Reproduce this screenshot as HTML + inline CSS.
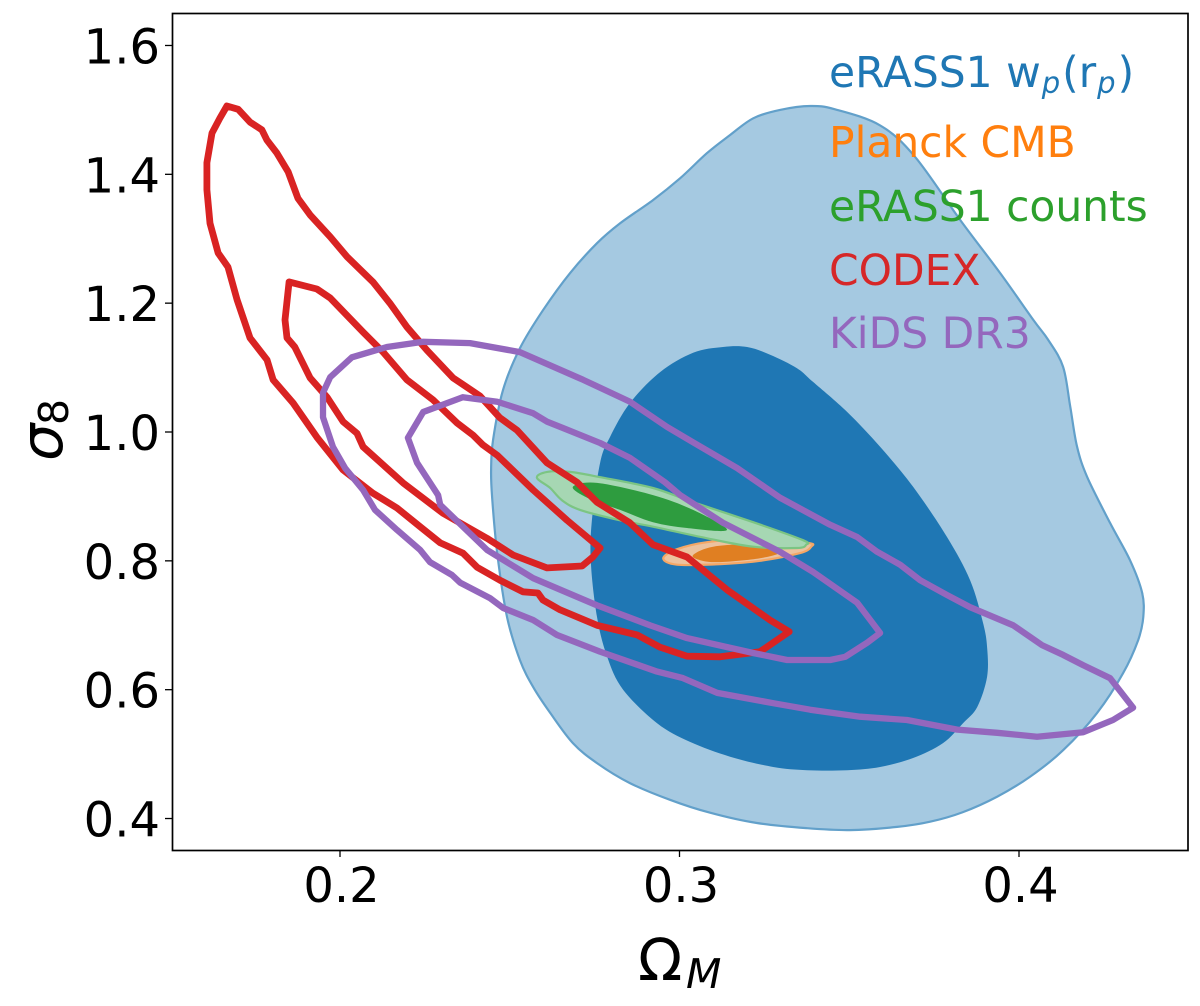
<!DOCTYPE html>
<html lang="en">
<head>
<meta charset="utf-8">
<title>Cosmological constraints: sigma8 vs Omega M</title>
<style>
html,body{margin:0;padding:0;background:#fff;width:1200px;height:1006px;overflow:hidden}
svg{display:block}
text{font-family:"DejaVu Sans","Liberation Sans",sans-serif}
</style>
</head>
<body>
<svg id="chart" xmlns="http://www.w3.org/2000/svg" width="1200" height="1006" viewBox="0 0 1200 1006">
  <g id="contours"></g>
  <rect x="172.5" y="13.5" width="1015.5" height="837" fill="none" stroke="#000" stroke-width="1.7"/>
  <g id="ticks"></g>
  <g fill="#000">
    <text x="638" y="980" font-size="58">Ω</text>
    <text x="686" y="988" font-size="41" font-style="italic">M</text>
  </g>
  <g fill="#000">
    <text transform="translate(62,461) rotate(-90)" font-size="59" font-style="italic">σ</text>
    <text transform="translate(68,425) rotate(-90)" font-size="41">8</text>
  </g>
  <g font-size="42.4">
    <text x="829" y="87" fill="#1f77b4">eRASS1 w<tspan font-style="italic" font-size="29" dx="1" dy="6">p</tspan><tspan dx="2" dy="-6">(r</tspan><tspan font-style="italic" font-size="29" dx="1" dy="6">p</tspan><tspan dx="2" dy="-6">)</tspan></text>
    <text x="829" y="157" fill="#ff7f0e">Planck CMB</text>
    <text x="829" y="221" fill="#2ca02c">eRASS1 counts</text>
    <text x="829" y="285" fill="#d62728">CODEX</text>
    <text x="829" y="348" fill="#9467bd">KiDS DR3</text>
  </g>
</svg>
<script>
const xTickValues = [0.2, 0.3, 0.4];
const xTickLabels = ["0.2", "0.3", "0.4"];
const yTickValues = [0.4, 0.6, 0.8, 1.0, 1.2, 1.4, 1.6];
const yTickLabels = ["0.4", "0.6", "0.8", "1.0", "1.2", "1.4", "1.6"];

const wpOuterOmega = [.3385,.3458,.3591,.3694,.3827,.3944,.4042,.4086,.4130,.4151,.4171,.4201,.4268,.4327,.4363,.4366,.4351,.4307,.4230,.4130,.4033,.3936,.3835,.3738,.3641,.3502,.3376,.3228,.3090,.2972,.2854,.2757,.2686,.2619,.2569,.2530,.2492,.2463,.2448,.2445,.2451,.2480,.2530,.2598,.2678,.2757,.2825,.2922,.3002,.3081,.3149,.3217,.3296];
const wpOuterSigma = [1.506,1.501,1.476,1.427,1.329,1.247,1.174,1.143,1.101,1.039,.977,.930,.859,.801,.750,.713,.677,.626,.564,.506,.465,.434,.410,.395,.387,.382,.385,.393,.409,.429,.455,.486,.517,.564,.604,.646,.713,.812,.899,.941,.988,1.065,1.130,1.189,1.247,1.293,1.324,1.360,1.394,1.433,1.461,1.487,1.500];

const wpInnerOmega = [.3128,.3199,.3267,.3346,.3393,.3494,.3591,.3688,.3788,.3856,.3894,.3906,.3906,.3877,.3835,.3776,.3688,.3591,.3494,.3376,.3276,.3149,.3031,.2934,.2834,.2787,.2757,.2739,.2742,.2766,.2795,.2854,.2943,.3040];
const wpInnerSigma = [1.132,1.132,1.120,1.099,1.078,1.031,.977,.915,.837,.770,.704,.666,.620,.573,.548,.517,.494,.480,.475,.475,.480,.496,.519,.548,.600,.651,.713,.797,.863,.952,.992,1.045,1.093,1.123];

const planckOuterOmega = [.2952,.2993,.3081,.3217,.3376,.3388,.3355,.3237,.3120,.2993];
const planckOuterSigma = [.804,.818,.829,.834,.828,.822,.812,.800,.795,.794];

const planckInnerOmega = [.3040,.3099,.3217,.3296,.3237,.3120,.3061];
const planckInnerSigma = [.809,.822,.825,.814,.804,.798,.801];

const countsOuterOmega = [.2580,.2610,.2678,.2775,.2922,.3040,.3217,.3364,.3373,.3346,.3217,.3081,.2922,.2825,.2707,.2654,.2619];
const countsOuterSigma = [.929,.938,.938,.929,.913,.891,.860,.832,.825,.820,.822,.835,.853,.863,.879,.894,.913];

const countsInnerOmega = [.2686,.2757,.2922,.3040,.3140,.3022,.2922,.2825,.2728];
const countsInnerSigma = [.915,.921,.902,.879,.848,.851,.860,.879,.898];

const codexOuterOmega = [.1667,.1700,.1735,.1770,.1785,.1814,.1847,.1876,.1912,.1971,.2021,.2097,.2147,.2197,.2256,.2333,.2412,.2471,.2521,.2610,.2698,.2757,.2854,.2922,.3022,.3140,.3267,.3323,.3237,.3120,.3022,.2943,.2875,.2757,.2648,.2598,.2583,.2539,.2471,.2404,.2362,.2295,.2236,.2168,.2097,.2009,.1932,.1862,.1803,.1785,.1735,.1697,.1670,.1641,.1617,.1608,.1608,.1623,.1646];
const codexOuterSigma = [1.506,1.501,1.481,1.469,1.453,1.433,1.404,1.363,1.337,1.303,1.272,1.233,1.200,1.163,1.127,1.084,1.056,1.022,1.003,.952,.922,.891,.859,.825,.806,.755,.708,.690,.659,.651,.652,.666,.685,.700,.724,.739,.750,.752,.770,.790,.812,.828,.853,.882,.905,.941,.992,1.045,1.081,1.112,1.146,1.205,1.256,1.278,1.324,1.376,1.418,1.464,1.487];

const codexInnerOmega = [.1850,.1932,.1971,.2068,.2127,.2197,.2274,.2345,.2392,.2421,.2463,.2569,.2669,.2766,.2745,.2713,.2610,.2510,.2433,.2303,.2186,.2068,.2050,.2009,.1962,.1912,.1867,.1844,.1838];
const codexInnerSigma = [1.233,1.222,1.208,1.155,1.124,1.081,1.050,1.014,.995,.980,.964,.910,.863,.820,.806,.792,.789,.809,.835,.874,.921,.977,.998,1.016,1.054,1.084,1.132,1.146,1.174];

const kidsOuterOmega = [.2530,.2383,.2245,.2138,.2035,.1971,.1950,.1950,.1979,.2015,.2068,.2103,.2168,.2236,.2265,.2330,.2354,.2442,.2480,.2569,.2639,.2766,.2934,.3010,.3111,.3276,.3385,.3532,.3670,.3818,.3936,.4053,.4189,.4277,.4336,.4268,.4189,.4130,.4068,.3983,.3856,.3788,.3709,.3650,.3582,.3523,.3444,.3296,.3170,.3040,.2963,.2854,.2716];
const kidsOuterSigma = [1.124,1.138,1.140,1.132,1.116,1.085,1.061,1.023,.977,.944,.910,.879,.848,.817,.798,.778,.766,.742,.727,.708,.685,.659,.628,.618,.595,.579,.569,.558,.553,.538,.533,.527,.534,.553,.572,.618,.638,.654,.669,.700,.728,.747,.770,.794,.814,.837,.856,.898,.944,.984,1.008,1.047,1.081];

const kidsInnerOmega = [.2200,.2245,.2362,.2463,.2569,.2610,.2657,.2766,.2854,.2957,.3002,.3128,.3296,.3393,.3523,.3555,.3591,.3553,.3488,.3444,.3317,.3217,.3022,.2913,.2757,.2569,.2433,.2295,.2289,.2227];
const kidsInnerSigma = [.991,1.031,1.054,1.047,1.029,1.016,1.006,.983,.960,.922,.902,.859,.814,.783,.735,.713,.688,.673,.651,.646,.646,.657,.680,.700,.731,.773,.817,.887,.902,.952];

const SVGNS = "http://www.w3.org/2000/svg";

function xScale(v) { return 340 + (v - 0.2) * 3395; }
function yScale(v) { return 432 - (v - 1.0) * 644.2; }

function toPoints(xs, ys) {
  const pts = [];
  for (let i = 0; i < xs.length; i++) pts.push([xScale(xs[i]), yScale(ys[i])]);
  return pts;
}
function smoothClosedPath(pts) {
  const n = pts.length;
  let d = "M" + pts[0][0].toFixed(1) + " " + pts[0][1].toFixed(1);
  for (let i = 0; i < n; i++) {
    const p0 = pts[(i - 1 + n) % n], p1 = pts[i], p2 = pts[(i + 1) % n], p3 = pts[(i + 2) % n];
    const c1x = p1[0] + (p2[0] - p0[0]) / 6, c1y = p1[1] + (p2[1] - p0[1]) / 6;
    const c2x = p2[0] - (p3[0] - p1[0]) / 6, c2y = p2[1] - (p3[1] - p1[1]) / 6;
    d += "C" + c1x.toFixed(1) + " " + c1y.toFixed(1) + " " + c2x.toFixed(1) + " " + c2y.toFixed(1) + " " + p2[0].toFixed(1) + " " + p2[1].toFixed(1);
  }
  return d + "Z";
}
function straightClosedPath(pts) {
  return "M" + pts.map(function (p) { return p[0].toFixed(1) + " " + p[1].toFixed(1); }).join("L") + "Z";
}

const contours = document.getElementById("contours");
function addContour(name, d, fill, stroke, width) {
  const el = document.createElementNS(SVGNS, "path");
  
  
  el.setAttribute("d", d);
  el.setAttribute("fill", fill);
  el.setAttribute("stroke", stroke);
  el.setAttribute("stroke-width", width);
  el.setAttribute("stroke-linejoin", "round");
  contours.appendChild(el);
}

addContour("erass1-wp-outer-contour", smoothClosedPath(toPoints(wpOuterOmega, wpOuterSigma)), "#a5c9e1", "#62a0ca", 2.2);
addContour("erass1-wp-inner-contour", smoothClosedPath(toPoints(wpInnerOmega, wpInnerSigma)), "#1f77b4", "none", 0);
addContour("planck-outer-contour", smoothClosedPath(toPoints(planckOuterOmega, planckOuterSigma)), "#ecc29f", "#f4a766", 2.2);
addContour("planck-inner-contour", smoothClosedPath(toPoints(planckInnerOmega, planckInnerSigma)), "#e07f22", "none", 0);
addContour("erass1-counts-outer-contour", smoothClosedPath(toPoints(countsOuterOmega, countsOuterSigma)), "#a6d7b3", "#7cc583", 2.2);
addContour("erass1-counts-inner-contour", smoothClosedPath(toPoints(countsInnerOmega, countsInnerSigma)), "#2e9c3f", "none", 0);
addContour("codex-outer-contour", straightClosedPath(toPoints(codexOuterOmega, codexOuterSigma)), "none", "#d92323", 6.8);
addContour("codex-inner-contour", straightClosedPath(toPoints(codexInnerOmega, codexInnerSigma)), "none", "#d92323", 6.8);
addContour("kids-outer-contour", straightClosedPath(toPoints(kidsOuterOmega, kidsOuterSigma)), "none", "#9467bd", 6.3);
addContour("kids-inner-contour", straightClosedPath(toPoints(kidsInnerOmega, kidsInnerSigma)), "none", "#9467bd", 6.3);

const ticks = document.getElementById("ticks");
xTickValues.forEach(function (v, i) {
  const px = xScale(v);
  const mark = document.createElementNS(SVGNS, "line");
  
  
  mark.setAttribute("x1", px);
  mark.setAttribute("x2", px);
  mark.setAttribute("y1", 850);
  mark.setAttribute("y2", 857);
  mark.setAttribute("stroke", "#000");
  mark.setAttribute("stroke-width", 1.3);
  ticks.appendChild(mark);
  const label = document.createElementNS(SVGNS, "text");
  
  
  label.setAttribute("x", px + 1.5);
  label.setAttribute("y", 902);
  label.setAttribute("font-size", 48);
  label.setAttribute("text-anchor", "middle");
  label.textContent = xTickLabels[i];
  ticks.appendChild(label);
});
yTickValues.forEach(function (v, i) {
  const py = yScale(v);
  const mark = document.createElementNS(SVGNS, "line");
  
  
  mark.setAttribute("x1", 165);
  mark.setAttribute("x2", 172);
  mark.setAttribute("y1", py);
  mark.setAttribute("y2", py);
  mark.setAttribute("stroke", "#000");
  mark.setAttribute("stroke-width", 1.3);
  ticks.appendChild(mark);
  const label = document.createElementNS(SVGNS, "text");
  
  
  label.setAttribute("x", 160);
  label.setAttribute("y", py + 18);
  label.setAttribute("font-size", 48);
  label.setAttribute("text-anchor", "end");
  label.textContent = yTickLabels[i];
  ticks.appendChild(label);
});
</script>
</body>
</html>
